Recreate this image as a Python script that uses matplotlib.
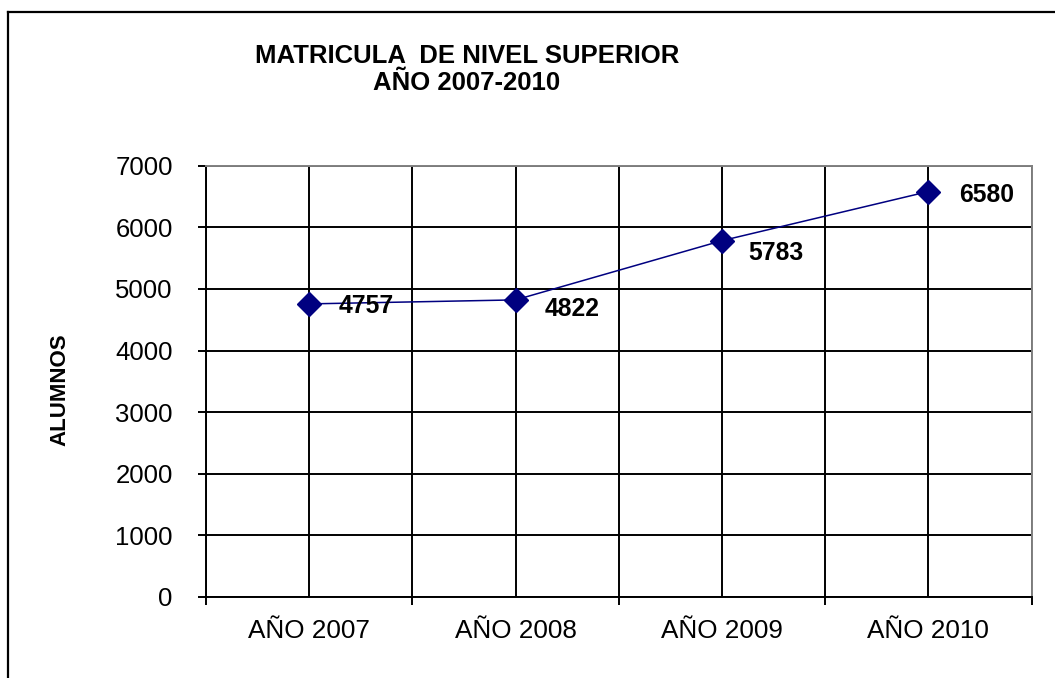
import matplotlib.pyplot as plt
from matplotlib.lines import Line2D

# data
years = ['AÑO 2007', 'AÑO 2008', 'AÑO 2009', 'AÑO 2010']
alumnos = [4757, 4822, 5783, 6580]
y_ticks = [0, 1000, 2000, 3000, 4000, 5000, 6000, 7000]

# label offsets in pixels (dx right, dy down) as placed in the original
label_dx = [29, 29, 26, 31]
label_dy = [2, 9, 12, 3]

plt.rcParams['font.family'] = ['Liberation Sans', 'DejaVu Sans']

W, H = 1055, 678
fig = plt.figure(figsize=(W / 100, H / 100), dpi=100)
ax = fig.add_axes([206 / W, 1 - 597 / H, (1031.5 - 206) / W, (597 - 165.7) / H])

navy = '#000080'
x = list(range(len(years)))
ax.plot(x, alumnos, color=navy, lw=1.1, marker='D', ms=12,
        markerfacecolor=navy, markeredgecolor=navy, zorder=5, clip_on=False)

for i, v in enumerate(alumnos):
    ax.annotate(str(v), (x[i], v), xytext=(label_dx[i] * 0.72, -label_dy[i] * 0.72),
                textcoords='offset points', ha='left', va='center',
                fontsize=17.8, fontweight='bold', zorder=6)

ax.set_xlim(-0.5, len(years) - 0.5)
ax.set_ylim(0, 7000)
ax.set_yticks(y_ticks)
ax.set_yticklabels([str(t) for t in y_ticks], fontsize=18.5)

# category boundaries get tick marks, labels sit at the centres
bounds = [i - 0.5 for i in range(len(years) + 1)]
ax.set_xticks(bounds)
ax.set_xticklabels([''] * len(bounds))
ax.set_xticks(x, minor=True)
ax.set_xticklabels(years, minor=True, fontsize=18.8)
ax.tick_params(axis='x', which='major', direction='out', length=6, width=1.4)
ax.tick_params(axis='x', which='minor', length=0, pad=15.5)
ax.tick_params(axis='y', direction='out', length=6, width=1.4, pad=18)

ax.grid(True, which='both', axis='x', color='black', lw=1.4)
ax.grid(True, which='major', axis='y', color='black', lw=1.4)
ax.set_axisbelow(True)

for s in ['left', 'bottom']:
    ax.spines[s].set_color('black')
    ax.spines[s].set_linewidth(1.4)
for s in ['top', 'right']:
    ax.spines[s].set_color('#808080')
    ax.spines[s].set_linewidth(1.4)

ax.set_ylabel('ALUMNOS', fontsize=16, fontweight='bold')
ax.yaxis.set_label_coords(-(206 - 70.5) / (1031.5 - 206), 0.48)

fig.text(467 / W, 1 - 69.5 / H, 'MATRICULA  DE NIVEL SUPERIOR\nAÑO 2007-2010',
         ha='center', va='center', multialignment='center',
         fontsize=18.5, fontweight='bold')

# outer chart border (only left and top edges visible in the crop)
fig.add_artist(Line2D([8 / W, 8 / W], [0, 1 - 12 / H], color='black', lw=1.6,
                      transform=fig.transFigure))
fig.add_artist(Line2D([8 / W, 1], [1 - 12 / H, 1 - 12 / H], color='black', lw=1.6,
                      transform=fig.transFigure))

fig.savefig('out.png', dpi=100)
